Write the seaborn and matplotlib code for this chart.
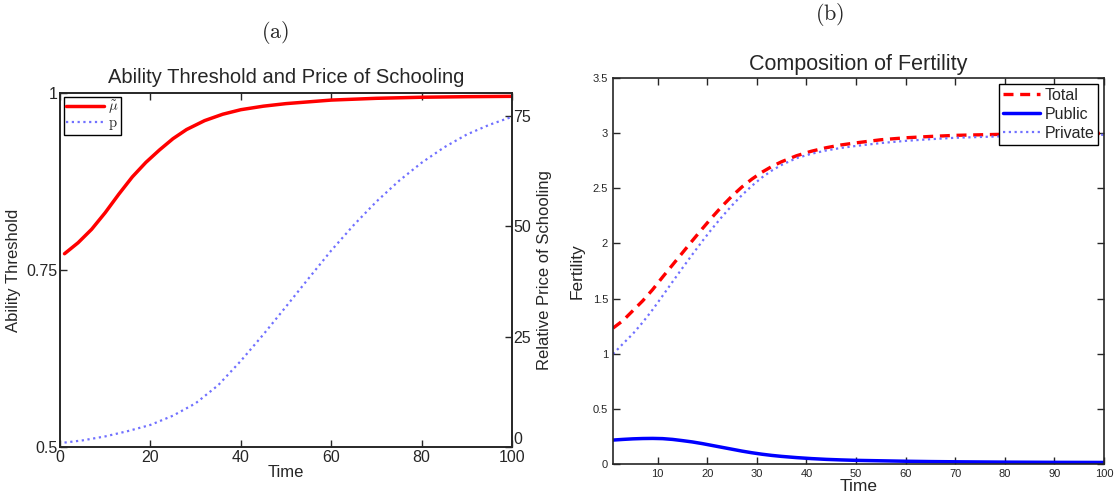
import numpy as np
import pandas as pd
import matplotlib
matplotlib.use("Agg")
import matplotlib.pyplot as plt
import seaborn as sns

# ---- data ----
time_a = [1, 4, 7, 10, 13, 16, 19, 22, 25, 28, 32, 36, 40, 45, 50, 55, 60, 70, 80, 90, 100]
mu_tilde = [0.773, 0.7885, 0.8075, 0.831, 0.857, 0.8815, 0.902, 0.9195, 0.9355, 0.9484,
            0.961, 0.970, 0.9764, 0.9814, 0.985, 0.9875, 0.990, 0.9925, 0.994, 0.9948, 0.9953]

time_p = [1, 5, 10, 15, 20, 25, 30, 35, 40, 45, 50, 55, 60, 65, 70, 75, 80, 85, 90, 95, 100]
price = [1.0, 1.5, 2.4, 3.6, 5.0, 7.1, 9.9, 14.0, 19.5, 25.5, 31.8, 38.2, 44.5, 50.3,
         55.6, 60.3, 64.4, 67.9, 70.8, 73.0, 74.8]

time_b = [1, 3, 5, 7, 9, 11, 13, 15, 17, 19, 21, 23, 25, 27, 29, 31, 33, 35, 38, 41, 44,
          47, 50, 55, 60, 65, 70, 80, 90, 100]
total = [1.232, 1.30, 1.39, 1.48, 1.582, 1.695, 1.805, 1.915, 2.025, 2.133, 2.238, 2.338,
         2.43, 2.512, 2.583, 2.645, 2.697, 2.741, 2.795, 2.836, 2.868, 2.893, 2.912, 2.94,
         2.958, 2.97, 2.98, 2.99, 2.995, 2.998]
public = [0.217, 0.223, 0.228, 0.231, 0.232, 0.230, 0.223, 0.212, 0.200, 0.185, 0.168, 0.151,
          0.134, 0.117, 0.102, 0.089, 0.078, 0.069, 0.058, 0.049, 0.042, 0.037, 0.033, 0.029,
          0.025, 0.022, 0.020, 0.017, 0.015, 0.014]
private = [0.997, 1.09, 1.18, 1.285, 1.40, 1.525, 1.652, 1.777, 1.90, 2.02, 2.135, 2.243,
           2.345, 2.438, 2.522, 2.597, 2.66, 2.712, 2.773, 2.813, 2.843, 2.866, 2.884, 2.91,
           2.93, 2.945, 2.958, 2.972, 2.98, 2.985]

left_yticks = [0.5, 0.75, 1]
right_yticks = [0, 25, 50, 75]
left_xticks = [0, 20, 40, 60, 80, 100]
fert_yticks = [0, 0.5, 1, 1.5, 2, 2.5, 3, 3.5]
fert_xticks = [10, 20, 30, 40, 50, 60, 70, 80, 90, 100]

sns.set_style("ticks")
plt.rcParams["font.family"] = ["Liberation Sans", "DejaVu Sans"]
plt.rcParams["mathtext.fontset"] = "cm"
plt.rcParams["axes.linewidth"] = 1.2
plt.rcParams["xtick.direction"] = "in"
plt.rcParams["ytick.direction"] = "in"

fig = plt.figure(figsize=(11.16, 5.04), dpi=100)
ax1 = fig.add_axes([60 / 1116, 57 / 504, 452 / 1116, 354 / 504])
ax2 = fig.add_axes([613 / 1116, 40 / 504, 491 / 1116, 386 / 504])

dfa = pd.DataFrame({"Time": time_a, "mu": mu_tilde})
dfp = pd.DataFrame({"Time": time_p, "p": price})

# ---- panel (a) ----
sns.lineplot(data=dfa, x="Time", y="mu", ax=ax1, color="#ff0000", lw=2.5,
             label=r"$\tilde{\mu}$", legend=False)
axr = ax1.twinx()
sns.lineplot(data=dfp, x="Time", y="p", ax=axr, color="#7070ff", lw=1.6,
             linestyle=(0, (1, 1.6)), label="p", legend=False)
ax1.set_xlim(0, 100)
ax1.set_ylim(0.5, 1)
axr.set_ylim(0, 80.2)
ax1.set_xticks(left_xticks)
ax1.set_yticks(left_yticks)
ax1.set_yticklabels(["0.5", "0.75", "1"])
axr.set_yticks(right_yticks)
axr.set_yticklabels([str(v) for v in right_yticks])
ax1.tick_params(axis="both", labelsize=11.5, length=5, width=1, top=True, direction="in")
ax1.tick_params(axis="x", pad=2)
ax1.tick_params(axis="y", pad=2)
axr.tick_params(axis="y", labelsize=11.5, length=5, width=1, direction="in", pad=1)
axr.get_yticklabels()[0].set_verticalalignment("bottom")
ax1.set_xlabel("Time", fontsize=12, labelpad=0)
ax1.set_ylabel("Ability Threshold", fontsize=12, labelpad=4)
axr.set_ylabel("Relative Price of Schooling", fontsize=12, labelpad=4)
ax1.set_title("Ability Threshold and Price of Schooling", fontsize=14.5, pad=7)
for a in (ax1, axr):
    for s in a.spines.values():
        s.set_visible(True)
        s.set_linewidth(1.2)
h1, l1 = ax1.get_legend_handles_labels()
h2, l2 = axr.get_legend_handles_labels()
leg = ax1.legend(h1 + h2, [r"$\tilde{\mu}$", r"$\mathrm{p}$"], loc="upper left",
                 fontsize=10.5, frameon=True, fancybox=False, edgecolor="black",
                 framealpha=1, borderpad=0.15, labelspacing=0.0, handlelength=2.6,
                 handletextpad=0.3, borderaxespad=0.25)
leg.get_frame().set_linewidth(1.0)

# ---- panel (b) ----
dfb = pd.DataFrame({"Time": time_b, "Total": total, "Public": public, "Private": private})
sns.lineplot(data=dfb, x="Time", y="Total", ax=ax2, color="#ff0000", lw=2.4,
             linestyle=(0, (3.0, 2.0)), label="Total")
sns.lineplot(data=dfb, x="Time", y="Public", ax=ax2, color="#0000ff", lw=2.5,
             label="Public")
sns.lineplot(data=dfb, x="Time", y="Private", ax=ax2, color="#7070ff", lw=1.6,
             linestyle=(0, (1, 1.6)), label="Private")
ax2.set_xlim(1, 100)
ax2.set_ylim(0, 3.5)
ax2.set_xticks(fert_xticks)
ax2.set_yticks(fert_yticks)
ax2.set_yticklabels(["0", "0.5", "1", "1.5", "2", "2.5", "3", "3.5"])
ax2.tick_params(axis="both", labelsize=8, length=5, width=1, top=True, right=True,
                direction="in")
ax2.set_xlabel("Time", fontsize=12.5, labelpad=0)
ax2.set_ylabel("Fertility", fontsize=12.5, labelpad=6)
ax2.set_title("Composition of Fertility", fontsize=15.5, pad=6)
for s in ax2.spines.values():
    s.set_visible(True)
    s.set_linewidth(1.2)
leg2 = ax2.legend(loc="upper right", fontsize=11.5, frameon=True, fancybox=False,
                  edgecolor="black", framealpha=1, borderpad=0.25, labelspacing=0.25,
                  handlelength=2.3, handletextpad=0.3, borderaxespad=0.35)
leg2.get_frame().set_linewidth(1.0)

# panel letters
fig.text(275 / 1116, 1 - 33 / 504, r"$\mathrm{(a)}$", fontsize=16, ha="center", va="center")
fig.text(830 / 1116, 1 - 15 / 504, r"$\mathrm{(b)}$", fontsize=16, ha="center", va="center")

fig.savefig("out.png", dpi=100)
